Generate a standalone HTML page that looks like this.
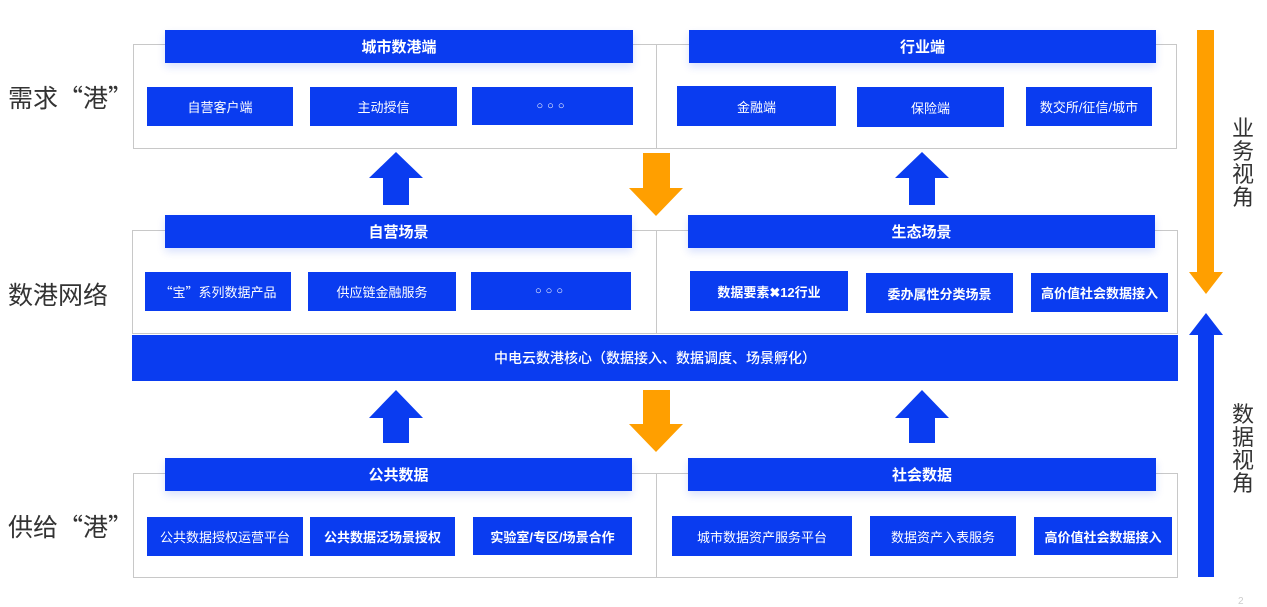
<!DOCTYPE html>
<html><head><meta charset="utf-8"><style>
body{margin:0;width:1267px;height:607px;background:#fff;position:relative;overflow:hidden;font-family:"Liberation Sans","Noto Sans CJK SC",sans-serif}
div{position:absolute;box-sizing:border-box}
.box{border:1.5px solid #c8c8c8}
.b{background:#0a3cf0;color:#fff;display:flex;align-items:center;justify-content:center;font-size:13px;white-space:nowrap}
.h{font-size:15px;font-weight:bold;box-shadow:0 4px 8px rgba(10,60,240,.15)}
.lab{font-size:25px;color:#333;white-space:nowrap}
.q{font-family:"Noto Sans CJK SC",sans-serif}
.v{font-size:22px;color:#333;width:26px;line-height:23px;text-align:center}
.dots{font-size:11px;letter-spacing:4px}
</style></head><body>
<div class="box" style="left:133px;top:44px;width:524px;height:105px"></div>
<div class="box" style="left:656px;top:44px;width:521px;height:105px"></div>
<div class="box" style="left:132px;top:230px;width:525px;height:104px"></div>
<div class="box" style="left:656px;top:230px;width:522px;height:104px"></div>
<div class="box" style="left:133px;top:473px;width:524px;height:105px"></div>
<div class="box" style="left:656px;top:473px;width:522px;height:105px"></div>

<div class="b h" style="left:165px;top:30px;width:468px;height:33px">城市数港端</div>
<div class="b h" style="left:689px;top:30px;width:467px;height:33px">行业端</div>
<div class="b" style="left:147px;top:87px;width:146px;height:39px">自营客户端</div>
<div class="b" style="left:310px;top:87px;width:147px;height:39px">主动授信</div>
<div class="b dots" style="left:472px;top:87px;width:161px;height:38px">○○○</div>
<div class="b" style="left:677px;top:86px;width:159px;height:40px">金融端</div>
<div class="b" style="left:857px;top:87px;width:147px;height:40px">保险端</div>
<div class="b" style="left:1026px;top:87px;width:126px;height:39px">数交所/征信/城市</div>

<div class="b h" style="left:165px;top:215px;width:467px;height:33px">自营场景</div>
<div class="b h" style="left:688px;top:215px;width:467px;height:33px">生态场景</div>
<div class="b" style="left:145px;top:272px;width:146px;height:39px"><span class="q">“</span>宝<span class="q">”</span>系列数据产品</div>
<div class="b" style="left:308px;top:272px;width:148px;height:39px">供应链金融服务</div>
<div class="b dots" style="left:471px;top:272px;width:160px;height:38px">○○○</div>
<div class="b" style="left:690px;top:271px;width:158px;height:40px;font-weight:bold">数据要素✖12行业</div>
<div class="b" style="left:866px;top:273px;width:147px;height:40px;font-weight:bold">委办属性分类场景</div>
<div class="b" style="left:1031px;top:273px;width:137px;height:39px;font-weight:bold">高价值社会数据接入</div>

<div class="b" style="left:132px;top:335px;width:1046px;height:46px;font-size:14px;font-weight:500">中电云数港核心（数据接入、数据调度、场景孵化）</div>

<div class="b h" style="left:165px;top:458px;width:467px;height:33px">公共数据</div>
<div class="b h" style="left:688px;top:458px;width:468px;height:33px">社会数据</div>
<div class="b" style="left:147px;top:517px;width:156px;height:39px">公共数据授权运营平台</div>
<div class="b" style="left:310px;top:517px;width:145px;height:39px;font-weight:bold">公共数据泛场景授权</div>
<div class="b" style="left:473px;top:517px;width:159px;height:38px;font-weight:bold">实验室/专区/场景合作</div>
<div class="b" style="left:672px;top:516px;width:180px;height:40px">城市数据资产服务平台</div>
<div class="b" style="left:870px;top:516px;width:146px;height:40px">数据资产入表服务</div>
<div class="b" style="left:1034px;top:517px;width:138px;height:38px;font-weight:bold">高价值社会数据接入</div>

<svg style="position:absolute;left:0;top:0" width="1267" height="607">
<g fill="#0a3cf0">
<polygon points="396,152 423,178 409,178 409,205 383,205 383,178 369,178"/>
<polygon points="922,152 949,178 935,178 935,205 909,205 909,178 895,178"/>
<polygon points="396,390 423,418 409,418 409,443 383,443 383,418 369,418"/>
<polygon points="922,390 949,418 935,418 935,443 909,443 909,418 895,418"/>
<polygon points="1206,313 1223,335 1214,335 1214,577 1198,577 1198,335 1189,335"/>
</g>
<g fill="#ff9f00">
<polygon points="643,153 670,153 670,188 683,188 656,216 629,188 643,188"/>
<polygon points="643,390 670,390 670,424 683,424 656,452 629,424 643,424"/>
<polygon points="1197,30 1214,30 1214,272 1223,272 1206,294 1189,272 1197,272"/>
</g>
</svg>

<div class="lab" style="left:8px;top:79px">需求<span class="q">“</span>港<span class="q">”</span></div>
<div class="lab" style="left:8px;top:276px">数港网络</div>
<div class="lab" style="left:8px;top:508px">供给<span class="q">“</span>港<span class="q">”</span></div>
<div class="v" style="left:1230px;top:117px">业务视角</div>
<div class="v" style="left:1230px;top:403px">数据视角</div>
<div style="left:1238px;top:596px;font-size:10px;color:#ccc">2</div>
</body></html>
